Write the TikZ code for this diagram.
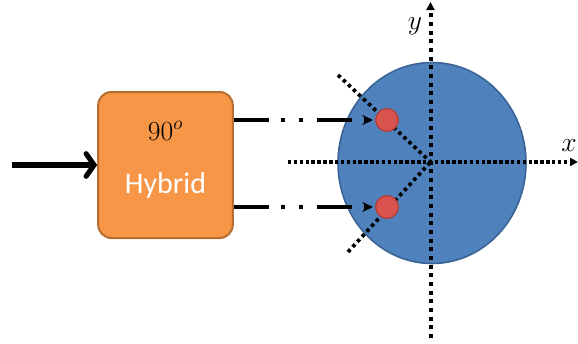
\documentclass[tikz,border=0pt]{standalone}
\usepackage{fontspec}
\newfontfamily\calibri{Carlito}
\usetikzlibrary{arrows.meta, positioning, shapes.geometric}
\definecolor{discblue}{HTML}{4F81BD}
\definecolor{discedge}{HTML}{3A6496}
\definecolor{hybfill}{HTML}{F79646}
\definecolor{hybedge}{HTML}{B66D31}
\definecolor{portred}{HTML}{D9534F}
\definecolor{portedge}{HTML}{B5403B}

\begin{document}
\begin{tikzpicture}[
    x=0.75pt, y=-0.75pt,
    hybrid/.style={draw=hybedge, fill=hybfill, line width=1.5pt,
                   rounded corners=10pt, minimum width=101pt,
                   minimum height=109.5pt, inner sep=0pt},
    disc/.style={ellipse, draw=discedge, fill=discblue, line width=1.2pt,
                 minimum width=141pt, minimum height=150.75pt, inner sep=0pt},
    port/.style={circle, draw=portedge, fill=portred, line width=1pt,
                 minimum size=17pt, inner sep=0pt},
    feed/.style={line width=3.8pt,
                 -{Straight Barb[length=6pt, width=17pt, line cap=round]}},
    quad/.style={line width=3pt,
                 dash pattern=on 26.25pt off 9pt on 3pt off 10.5pt on 3pt off 10.5pt,
                 -{Stealth[length=8pt, width=7.5pt, inset=2.5pt]}},
    hax/.style={line width=3pt, dash pattern=on 2.6pt off 1.8pt,
                -{Triangle[length=6pt, width=6pt]}},
    vax/.style={line width=3pt, dash pattern=on 3pt off 3.5pt,
                -{Triangle[length=6pt, width=6pt]}},
    diag/.style={line width=2.8pt, dash pattern=on 2.6pt off 2.6pt},
    axlab/.style={font=\fontsize{20}{24}\selectfont, inner sep=0pt},
]
\useasboundingbox (0,0) rectangle (578,343);

% ---------------------------------------------------------------- the hybrid
\node[hybrid] (hyb) at (165.5,165) {};
\node[font=\fontsize{20}{24}\selectfont, anchor=base] (deg) at (165.5,140) {$90^o$};
\node[font=\calibri\fontsize{22.5}{26}\selectfont, text=white, anchor=base]
    (name) at (165.5,193) {Hybrid};

\coordinate (in) at (12,165);
\draw[feed] (in) -- (hyb);

% ---------------------------------------------------------------- the disc
\node[disc] (disc) at (432,163) {};

\coordinate (o) at (430.5,162);
\coordinate (xs) at (288,162);
\coordinate (xe) at (578,162);
\coordinate (ys) at (430.5,338);
\coordinate (ye) at (430.5,2);
\draw[hax] (xs) -- (xe);
\draw[vax] (ys) -- (ye);

% slanted lines through the two ports
\coordinate (d1) at (338,75);
\coordinate (d2) at (348,252);
\draw[diag] (d1) -- (o);
\draw[diag] (d2) -- (o);

% ---------------------------------------------------------------- ports
\node[port] (p1) at (387,120) {};
\node[port] (p2) at (387,207) {};

\foreach \p in {p1, p2} {
    \draw[quad, shorten >=1.5pt] (hyb.east |- \p) -- (\p);
}

% ---------------------------------------------------------------- labels
\node[axlab] (xl) at (569,146) {$x$};
\node[axlab] (yl) at (415,26) {$y$};

\end{tikzpicture}
\end{document}
